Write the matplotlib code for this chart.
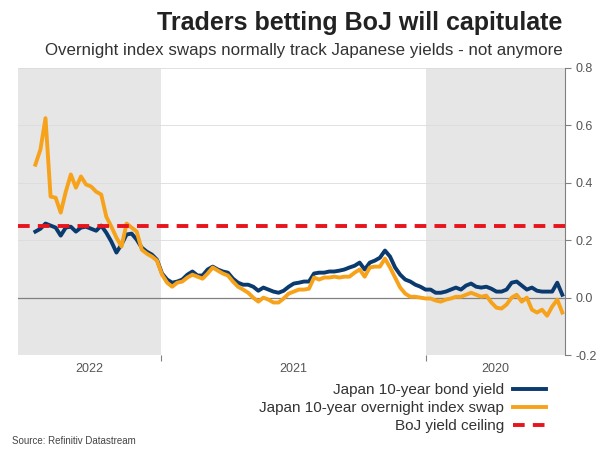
import matplotlib
matplotlib.use("Agg")
import matplotlib.pyplot as plt
import pandas as pd

# weekly readings, oldest first (late June 2020 -> late June 2022)
start_date = "2020-06-26"
jgb_10y = [0.010, 0.052, 0.021, 0.021, 0.021, 0.024, 0.035, 0.028, 0.042, 0.056,
           0.052, 0.028, 0.021, 0.021, 0.031, 0.038, 0.035, 0.038, 0.049, 0.042,
           0.028, 0.035, 0.028, 0.021, 0.017, 0.017, 0.028, 0.028, 0.038, 0.045,
           0.056, 0.063, 0.080, 0.105, 0.143, 0.164, 0.139, 0.129, 0.122, 0.098,
           0.122, 0.111, 0.105, 0.098, 0.094, 0.091, 0.091, 0.087, 0.087, 0.084,
           0.056, 0.056, 0.052, 0.049, 0.038, 0.024, 0.017, 0.021, 0.028, 0.035,
           0.024, 0.038, 0.045, 0.045, 0.052, 0.066, 0.087, 0.091, 0.098, 0.108,
           0.098, 0.077, 0.077, 0.091, 0.080, 0.063, 0.056, 0.052, 0.063, 0.084,
           0.132, 0.150, 0.160, 0.174, 0.202, 0.223, 0.220, 0.185, 0.157, 0.195,
           0.226, 0.251, 0.233, 0.240, 0.247, 0.244, 0.230, 0.247, 0.244, 0.216,
           0.244, 0.251, 0.258, 0.240, 0.230]
ois_10y = [-0.052, -0.007, -0.031, -0.063, -0.042, -0.052, -0.042, 0.000, -0.014, 0.010,
           0.000, -0.024, -0.038, -0.035, -0.017, 0.007, 0.003, 0.010, 0.017, 0.010,
           0.003, 0.003, -0.003, -0.007, -0.014, -0.010, -0.003, -0.003, 0.000, 0.003,
           0.003, 0.014, 0.035, 0.070, 0.105, 0.136, 0.108, 0.108, 0.105, 0.073,
           0.098, 0.087, 0.073, 0.073, 0.070, 0.073, 0.070, 0.070, 0.063, 0.070,
           0.031, 0.028, 0.028, 0.021, 0.014, -0.003, -0.017, -0.017, -0.007, 0.000,
           -0.014, 0.000, 0.017, 0.028, 0.038, 0.056, 0.077, 0.084, 0.094, 0.105,
           0.084, 0.066, 0.073, 0.080, 0.070, 0.056, 0.052, 0.038, 0.052, 0.080,
           0.129, 0.143, 0.153, 0.167, 0.230, 0.244, 0.258, 0.178, 0.209, 0.247,
           0.282, 0.359, 0.369, 0.387, 0.394, 0.422, 0.383, 0.429, 0.369, 0.296,
           0.348, 0.352, 0.625, 0.516, 0.463]
boj_ceiling = 0.25

x_range = ("2020-06-22", "2022-07-18")
year_labels = ["2020", "2021", "2022"]
y_ticks = [-0.2, 0.0, 0.2, 0.4, 0.6, 0.8]

dates = pd.date_range(start_date, periods=len(jgb_10y), freq="7D")
x0, x1 = pd.Timestamp(x_range[0]), pd.Timestamp(x_range[1])

plt.rcParams["font.family"] = ["Liberation Sans", "DejaVu Sans"]

fig = plt.figure(figsize=(6, 4.5), dpi=100)
ax = fig.add_axes([0.03, 0.211, 0.912, 0.638])

# alternate year shading
year_starts = [pd.Timestamp(f"{y}-01-01") for y in year_labels]
bounds = [x0] + year_starts[1:] + [x1]
for i in range(len(year_labels)):
    if i % 2 == 0:
        ax.axvspan(bounds[i], bounds[i + 1], color="#e6e6e6", lw=0, zorder=0)

ax.axhline(0, color="#808080", lw=0.9, zorder=1)
for yv in y_ticks[2:]:
    ax.axhline(yv, color="#dcdcdc", lw=0.6, zorder=1)

ax.plot(dates, jgb_10y, color="#0b3a6e", lw=2.8, zorder=3, label="Japan 10-year bond yield")
ax.plot(dates, ois_10y, color="#f7a21b", lw=2.8, zorder=4, label="Japan 10-year overnight index swap")
ax.axhline(boj_ceiling, color="#e8141b", lw=2.8, ls=(0, (3, 2.1)), zorder=5, label="BoJ yield ceiling")

ax.set_ylim(-0.2, 0.8)
ax.set_xlim(x1, x0)  # time runs right to left, like the reference
ax.yaxis.tick_right()
ax.set_yticks(y_ticks)
ax.set_yticklabels([f"{v:.1f}" for v in y_ticks])
ax.tick_params(axis="y", colors="#808080", labelcolor="#555555", labelsize=9, length=4, width=0.8)

# tick marks at year boundaries, labels in the middle of each year span
ax.set_xticks(year_starts[1:])
ax.set_xticklabels([])
mids = [bounds[i] + (bounds[i + 1] - bounds[i]) / 2 for i in range(len(year_labels))]
ax.set_xticks(mids, minor=True)
ax.set_xticklabels(year_labels, minor=True)
ax.tick_params(axis="x", which="major", colors="#808080", length=4, width=0.8)
ax.tick_params(axis="x", which="minor", length=0, labelsize=9, labelcolor="#555555", pad=6)

for s in ["top", "left", "bottom"]:
    ax.spines[s].set_visible(False)
ax.spines["right"].set_color("#808080")
ax.spines["right"].set_linewidth(0.8)

fig.text(0.938, 0.975, "Traders betting BoJ will capitulate", ha="right", va="top",
         fontsize=18, fontweight="bold", color="#222222")
fig.text(0.938, 0.905, "Overnight index swaps normally track Japanese yields - not anymore",
         ha="right", va="top", fontsize=12.2, color="#333333")

fig.legend(loc="upper right", bbox_to_anchor=(0.922, 0.165), frameon=False, markerfirst=False,
           fontsize=11, handlelength=2.1, handletextpad=0.6, labelspacing=0.25, borderpad=0,
           labelcolor="#333333")

fig.text(0.02, 0.01, "Source: Refinitiv Datastream", ha="left", va="bottom", fontsize=7, color="#444444")

fig.savefig("out.png", dpi=100)
